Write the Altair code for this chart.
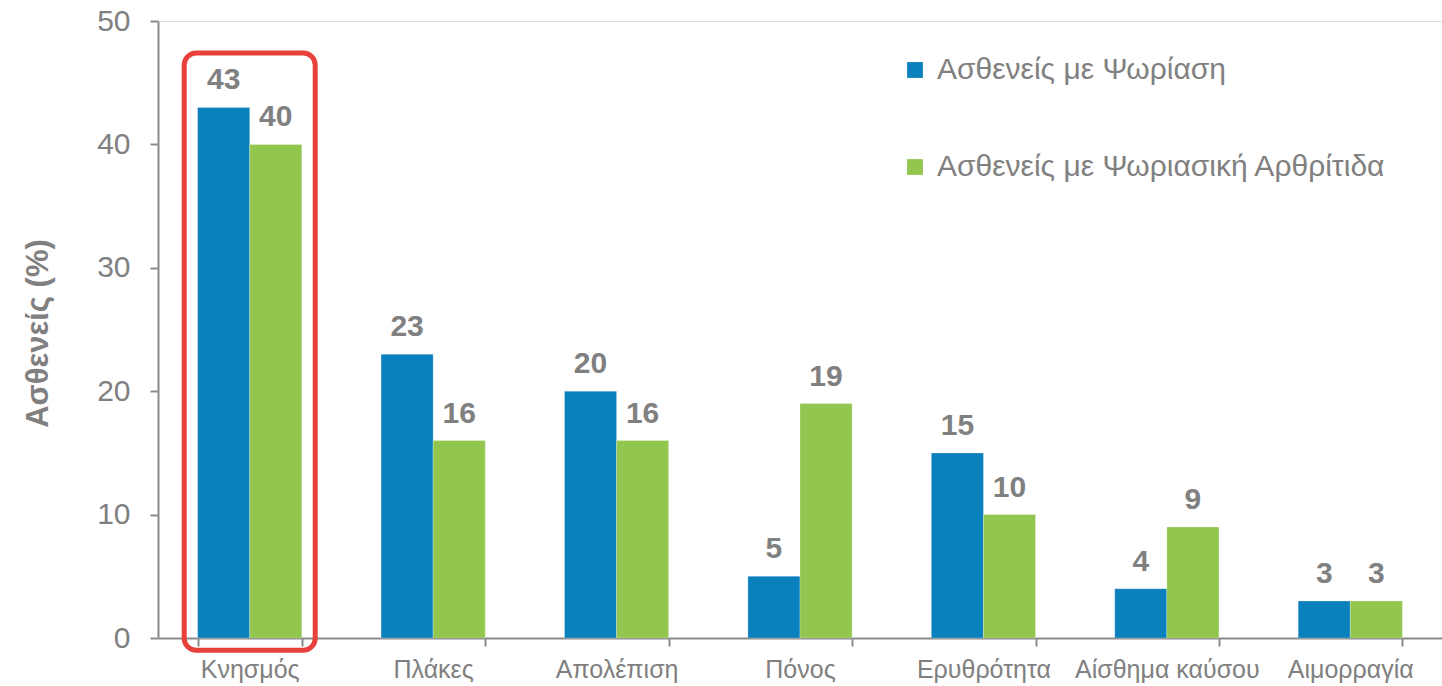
import altair as alt
import pandas as pd

categories = ["Κνησμός", "Πλάκες", "Απολέπιση", "Πόνος", "Ερυθρότητα", "Αίσθημα καύσου", "Αιμορραγία"]
series_names = ["Ασθενείς με Ψωρίαση", "Ασθενείς με Ψωριασική Αρθρίτιδα"]
psoriasis = [43, 23, 20, 5, 15, 4, 3]
arthritis = [40, 16, 16, 19, 10, 9, 3]
colors = ["#0a80bd", "#92c64e"]

highlight_category = ["Κνησμός"]
highlight_top = [47.4]
highlight_bottom = [-1.0]

rows = []
for i, c in enumerate(categories):
    rows.append({"cat": c, "series": series_names[0], "value": psoriasis[i]})
    rows.append({"cat": c, "series": series_names[1], "value": arthritis[i]})
df = pd.DataFrame(rows)
hl = pd.DataFrame({"cat": highlight_category, "top": highlight_top, "bottom": highlight_bottom})

GRAY = "#808080"
FONT = "Liberation Sans"

xscale = alt.Scale(domain=categories, paddingInner=0.432, paddingOuter=0.216)
yscale = alt.Scale(domain=[0, 50])

x = alt.X("cat:N", scale=xscale, sort=categories, title=None,
          axis=alt.Axis(labelAngle=0, labelFontSize=25, labelColor=GRAY, labelFont=FONT,
                        tickBand="extent", tickSize=8, tickColor="#8a8a8a",
                        domainColor="#8a8a8a", domainWidth=2, tickWidth=2,
                        labelPadding=11, labelLimit=400, labelOverlap=False))
y = alt.Y("value:Q", scale=yscale, title="Ασθενείς (%)",
          axis=alt.Axis(values=[0, 10, 20, 30, 40, 50], labelFontSize=30, labelColor=GRAY,
                        labelFont=FONT, tickSize=8, tickColor="#8a8a8a", tickWidth=2,
                        domainColor="#8a8a8a", domainWidth=2, labelPadding=20, grid=False,
                        titleFontSize=31, titleFont=FONT, titleFontWeight="bold",
                        titleColor=GRAY, titleX=-111, titleY=333 - 21, titleAngle=-90,
                        titleAlign="center", titleBaseline="alphabetic"))

color = alt.Color("series:N", scale=alt.Scale(domain=series_names, range=colors),
                  legend=alt.Legend(title=None, orient="none", legendX=742, legendY=34,
                                    symbolType="square", symbolSize=250, symbolStrokeWidth=0,
                                    labelFontSize=30, labelFont=FONT, labelColor=GRAY,
                                    rowPadding=67, labelOffset=7, labelLimit=600))

bars = alt.Chart(df).mark_bar(stroke="white", strokeOpacity=0.5, strokeWidth=0.5).encode(
    x=x, xOffset=alt.XOffset("series:N", sort=series_names), y=y, color=color
)

labels = alt.Chart(df).mark_text(fontSize=30, fontWeight="bold", font=FONT, color=GRAY,
                                 baseline="alphabetic", dy=-18).encode(
    x=alt.X("cat:N", scale=xscale, sort=categories),
    xOffset=alt.XOffset("series:N", sort=series_names),
    y=alt.Y("value:Q", scale=yscale),
    text=alt.Text("value:Q")
)

box = alt.Chart(hl).mark_bar(size=131, fill=None, fillOpacity=0, stroke="#e8413c",
                             strokeWidth=5, cornerRadius=12, clip=False).encode(
    x=alt.X("cat:N", scale=xscale, sort=categories),
    y=alt.Y("top:Q", scale=yscale),
    y2="bottom:Q"
)

chart = alt.layer(bars, labels, box).properties(
    width=1284, height=617,
    padding={"left": 158, "top": 21, "right": 0, "bottom": 48},
    autosize=alt.AutoSizeParams(type="none"),
    background="white"
).configure_view(stroke=None).configure(font=FONT)

chart.save("out.html", embed_options={"renderer": "svg", "actions": False})
